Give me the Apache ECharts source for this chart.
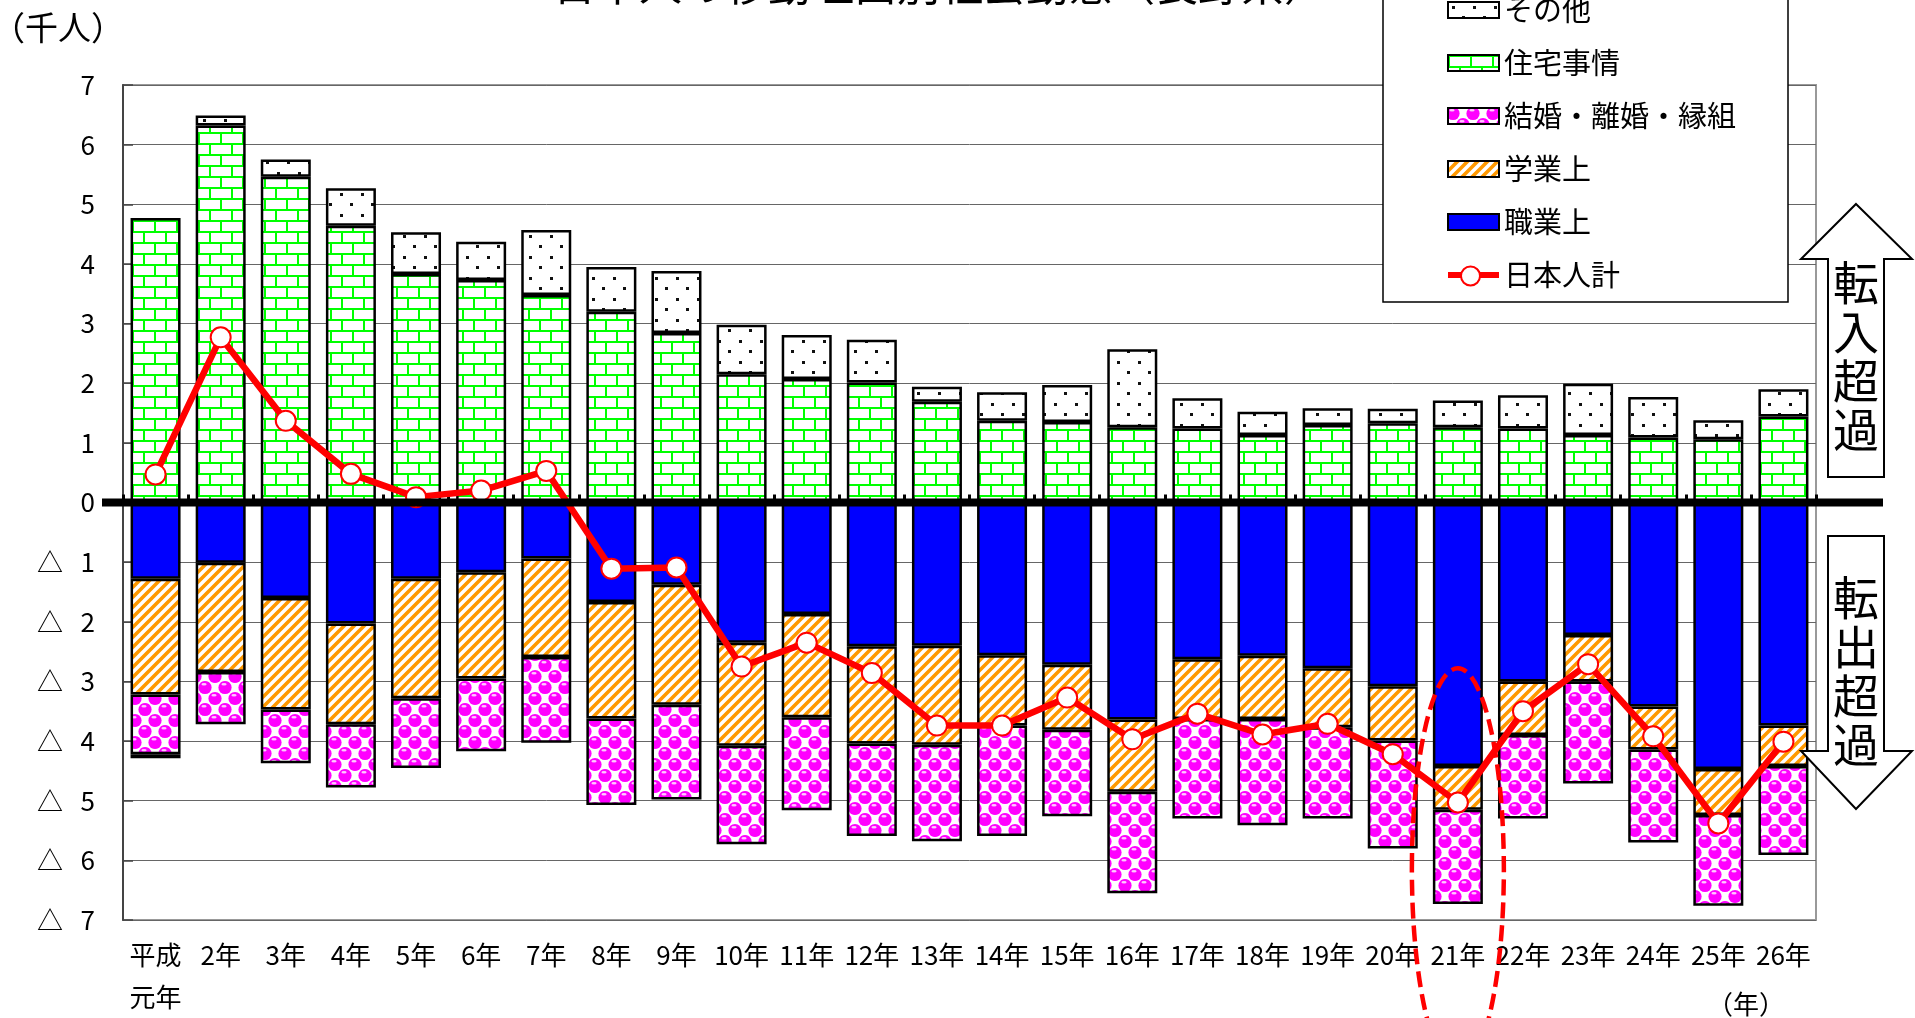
<!DOCTYPE html>
<html>
<head>
<meta charset="utf-8">
<script src="https://cdn.jsdelivr.net/npm/echarts@6/dist/echarts.min.js"></script>
<style>
html, body { margin: 0; padding: 0; background: #fff; }
#chart { width: 1915px; height: 1018px; }
</style>
</head>
<body>
<div id="chart"></div>
<script>
// 年次（平成元年〜26年）
const categories = ['平成\n元年', '2年', '3年', '4年', '5年', '6年', '7年', '8年', '9年', '10年',
  '11年', '12年', '13年', '14年', '15年', '16年', '17年', '18年', '19年', '20年',
  '21年', '22年', '23年', '24年', '25年', '26年'];

// 移動理由別の社会増減（千人、マイナスは転出超過）
const jutaku = [4.77, 6.32, 5.46, 4.64, 3.83, 3.73, 3.48, 3.20, 2.84, 2.15, 2.07, 2.01, 1.69,
  1.37, 1.35, 1.26, 1.24, 1.13, 1.30, 1.33, 1.26, 1.24, 1.13, 1.09, 1.06, 1.44];
const sonota = [-0.07, 0.17, 0.29, 0.63, 0.70, 0.64, 1.09, 0.75, 1.04, 0.83, 0.74, 0.72, 0.25,
  0.48, 0.62, 1.31, 0.51, 0.39, 0.28, 0.24, 0.45, 0.56, 0.86, 0.68, 0.32, 0.46];
const shokugyo = [-1.28, -1.01, -1.60, -2.03, -1.28, -1.17, -0.94, -1.67, -1.38, -2.35, -1.87, -2.41, -2.40,
  -2.56, -2.72, -3.64, -2.63, -2.57, -2.78, -3.08, -4.42, -3.00, -2.22, -3.42, -4.47, -3.74];
const gakugyo = [-1.94, -1.83, -1.87, -1.69, -2.00, -1.78, -1.65, -1.95, -2.01, -1.73, -1.73, -1.63, -1.66,
  -1.18, -1.09, -1.21, -1.00, -1.06, -0.99, -0.91, -0.73, -0.90, -0.78, -0.72, -0.77, -0.68];
const kekkon = [-1.00, -0.88, -0.90, -1.06, -1.17, -1.22, -1.44, -1.45, -1.59, -1.65, -1.56, -1.55, -1.62,
  -1.85, -1.45, -1.70, -1.67, -1.78, -1.53, -1.81, -1.58, -1.40, -1.71, -1.56, -1.52, -1.49];
const nihonjinKei = [0.47, 2.77, 1.37, 0.48, 0.09, 0.20, 0.53, -1.11, -1.09, -2.75, -2.35, -2.86, -3.74,
  -3.74, -3.27, -3.97, -3.54, -3.89, -3.71, -4.22, -5.03, -3.50, -2.71, -3.92, -5.38, -4.01];

// 目盛り（最小・最大・間隔）
const yTicks = [-7, 7, 1];

const FONT = "'Noto Sans CJK JP', 'Noto Sans CJK SC', sans-serif";

// ---- 塗りパターン（キャンバスのタイル） ----
function tile(w, h, draw) {
  const c = document.createElement('canvas');
  c.width = w; c.height = h;
  const ctx = c.getContext('2d');
  ctx.fillStyle = '#fff';
  ctx.fillRect(0, 0, w, h);
  draw(ctx, w, h);
  return { image: c, repeat: 'repeat' };
}

// れんが模様（住宅事情）
const brickFill = tile(22, 22, (ctx) => {
  ctx.fillStyle = '#00ff00';
  ctx.fillRect(0, 0, 22, 2);
  ctx.fillRect(0, 11, 22, 2);
  ctx.fillRect(0, 0, 2, 11);
  ctx.fillRect(11, 11, 2, 11);
});

// 点描（その他）
const dotFill = tile(21, 21, (ctx) => {
  ctx.fillStyle = '#111';
  ctx.fillRect(4, 4, 3, 3);
  ctx.fillRect(14, 14, 3, 3);
});

// 斜線（学業上）
const stripeFill = tile(10, 10, (ctx) => {
  ctx.strokeStyle = '#ff9900';
  ctx.lineWidth = 3.6;
  ctx.lineCap = 'square';
  for (const off of [-10, 0, 10]) {
    ctx.beginPath();
    ctx.moveTo(off, 10);
    ctx.lineTo(off + 10, 0);
    ctx.stroke();
  }
});

// 玉模様（結婚・離婚・縁組）
const ballFill = tile(20, 22, (ctx) => {
  const balls = [[5, 5.5], [15, 16.5], [-5, 16.5], [25, 5.5], [5, 27.5], [15, -5.5], [-5, -5.5], [25, 27.5]];
  for (const [x, y] of balls) {
    ctx.fillStyle = '#ff00ff';
    ctx.beginPath();
    ctx.arc(x, y, 6.6, 0, Math.PI * 2);
    ctx.fill();
    ctx.fillStyle = '#ffc8ff';
    ctx.beginPath();
    ctx.ellipse(x - 1, y - 3.2, 2.6, 1.3, 0, 0, Math.PI * 2);
    ctx.fill();
  }
});

const barBase = {
  type: 'bar',
  stack: 'total',
  barWidth: 50,
  xAxisIndex: 0,
  yAxisIndex: 0,
  emphasis: { disabled: true }
};

function barSeries(name, data, fill) {
  return Object.assign({}, barBase, {
    name,
    data,
    itemStyle: { color: fill, borderColor: '#000', borderWidth: 2.5 }
  });
}

const option = {
  animation: false,
  backgroundColor: '#fff',
  textStyle: { fontFamily: FONT },
  grid: {
    left: 123, right: 99, top: 85, bottom: 97,
    show: true, borderColor: '#999', borderWidth: 2, backgroundColor: 'transparent'
  },
  legend: {
    orient: 'vertical',
    left: 1383,
    top: -17,
    padding: [12, 52, 12, 62],
    itemGap: 23,
    itemWidth: 51,
    itemHeight: 16,
    backgroundColor: '#fff',
    borderColor: '#000',
    borderWidth: 1.5,
    borderRadius: 0,
    z: 20,
    selectedMode: false,
    lineStyle: { width: 6 },
    textStyle: { fontFamily: FONT, fontSize: 29, lineHeight: 30, color: '#000' },
    data: [
      { name: 'その他', icon: 'rect' },
      { name: '住宅事情', icon: 'rect' },
      { name: '結婚・離婚・縁組', icon: 'rect' },
      { name: '学業上', icon: 'rect' },
      { name: '職業上', icon: 'rect' },
      { name: '日本人計' }
    ]
  },
  xAxis: [
    {
      type: 'category',
      data: categories,
      position: 'bottom',
      axisLine: { show: false, onZero: false },
      axisTick: { show: false },
      axisLabel: {
        fontFamily: FONT, fontSize: 26, lineHeight: 42, color: '#000', margin: 14, interval: 0
      },
      splitLine: { show: false }
    },
    {
      type: 'category',
      data: categories,
      position: 'top',
      axisLine: { show: false, onZero: true },
      axisTick: { show: true, inside: false, length: 8, lineStyle: { color: '#000', width: 3 } },
      axisLabel: { show: false },
      splitLine: { show: false }
    }
  ],
  yAxis: {
    type: 'value',
    min: yTicks[0],
    max: yTicks[1],
    interval: yTicks[2],
    axisLine: { show: true, lineStyle: { color: '#444', width: 2 } },
    axisTick: { show: true, inside: true, length: 10, lineStyle: { color: '#444', width: 1.5 } },
    splitLine: { show: true, lineStyle: { color: '#666', width: 1 } },
    axisLabel: {
      fontFamily: FONT, fontSize: 26, color: '#000', margin: 28,
      formatter: (v) => (v < 0 ? '△   ' + (-v) : String(v))
    }
  },
  series: [
    barSeries('職業上', shokugyo, '#0000ff'),
    barSeries('学業上', gakugyo, stripeFill),
    barSeries('結婚・離婚・縁組', kekkon, ballFill),
    barSeries('住宅事情', jutaku, brickFill),
    barSeries('その他', sonota, dotFill),
    {
      name: '日本人計',
      type: 'line',
      data: nihonjinKei,
      xAxisIndex: 0,
      yAxisIndex: 0,
      z: 5,
      symbol: 'circle',
      symbolSize: 20,
      lineStyle: { color: '#ff0000', width: 6.5 },
      itemStyle: { color: '#fff', borderColor: '#ff0000', borderWidth: 2 },
      emphasis: { disabled: true }
    }
  ]
};

const chart = echarts.init(document.getElementById('chart'), null, { renderer: 'canvas' });
chart.setOption(option);

// 0 の基準線・注記・矢印
const y0 = chart.convertToPixel({ yAxisIndex: 0 }, 0);
const c21 = chart.convertToPixel({ xAxisIndex: 0, yAxisIndex: 0 }, [20, -6.15]);

const upArrow = [[1856, 204], [1912, 259], [1884, 259], [1884, 477], [1828, 477], [1828, 259], [1801, 259]];
const downArrow = [[1828, 536], [1884, 536], [1884, 751], [1912, 751], [1856, 809], [1801, 751], [1828, 751]];

chart.setOption({
  graphic: [
    {
      type: 'text', x: 940, y: -15, z: 30,
      style: {
        text: '日本人の移動理由別社会動態（長野県）', fontFamily: FONT, fontSize: 43,
        fill: '#000', align: 'center', verticalAlign: 'middle'
      }
    },
    {
      type: 'text', x: -8, y: 27, z: 30,
      style: { text: '（千人）', fontFamily: FONT, fontSize: 33, fill: '#000', align: 'left', verticalAlign: 'middle' }
    },
    {
      type: 'text', x: 1746, y: 1004, z: 30,
      style: { text: '（年）', fontFamily: FONT, fontSize: 26, fill: '#000', align: 'center', verticalAlign: 'middle' }
    },
    {
      // 凡例「日本人計」のマーカー
      type: 'circle', z: 25,
      shape: { cx: 1470.5, cy: 276, r: 9.5 },
      style: { fill: '#fff', stroke: '#ff0000', lineWidth: 2 }
    },
    {
      type: 'line', z: 40,
      shape: { x1: 102, y1: y0, x2: 1883, y2: y0 },
      style: { stroke: '#000', lineWidth: 8 }
    },
    {
      type: 'polygon', z: 30,
      shape: { points: upArrow },
      style: { fill: '#fff', stroke: '#000', lineWidth: 2 }
    },
    {
      type: 'polygon', z: 30,
      shape: { points: downArrow },
      style: { fill: '#fff', stroke: '#000', lineWidth: 2 }
    },
    {
      type: 'text', x: 1856, y: 356, z: 31,
      style: { text: '転\n入\n超\n過', fontFamily: FONT, fontSize: 46, lineHeight: 49, fill: '#000', align: 'center', verticalAlign: 'middle' }
    },
    {
      type: 'text', x: 1856, y: 671, z: 31,
      style: { text: '転\n出\n超\n過', fontFamily: FONT, fontSize: 46, lineHeight: 49, fill: '#000', align: 'center', verticalAlign: 'middle' }
    },
    {
      type: 'ellipse', z: 35,
      shape: { cx: c21[0], cy: c21[1], rx: 46, ry: 201 },
      style: { fill: 'none', stroke: '#ff0000', lineWidth: 4.5, lineDash: [16, 7] }
    }
  ]
});
</script>
</body>
</html>
